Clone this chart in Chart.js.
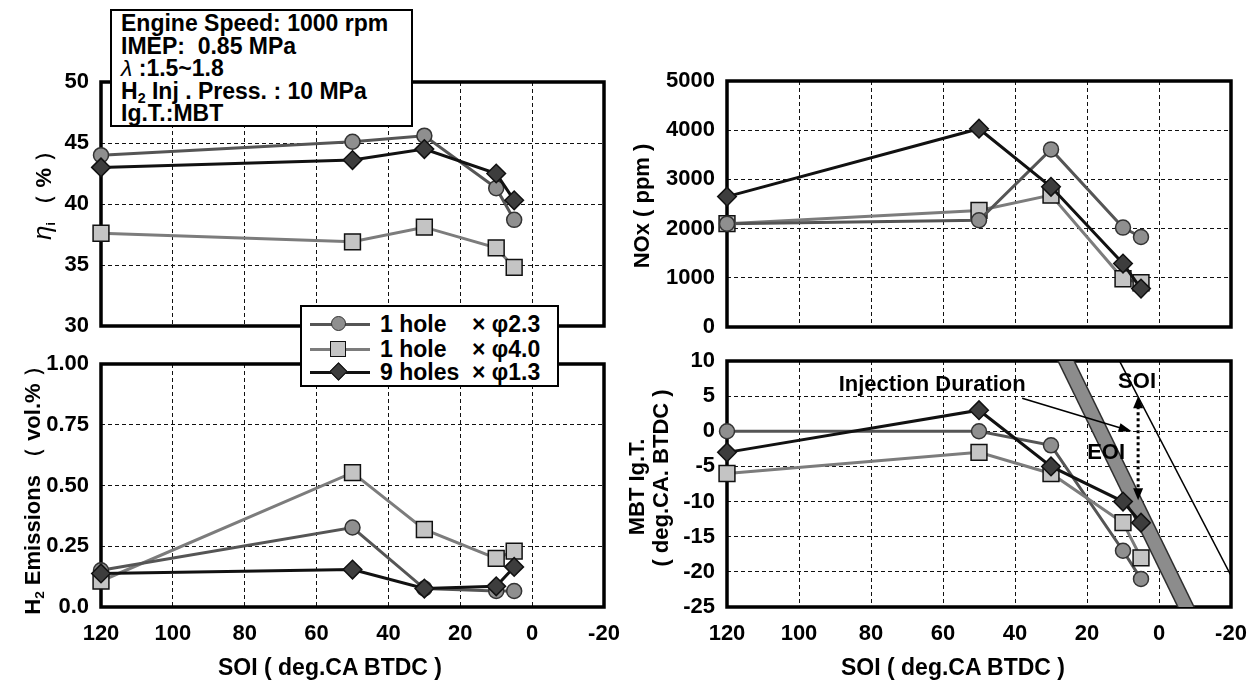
<!DOCTYPE html>
<html>
<head>
<meta charset="utf-8">
<script src="https://cdn.jsdelivr.net/npm/chart.js@4.4.1/dist/chart.umd.min.js"></script>
<style>
  html, body { margin: 0; padding: 0; background: #fff; }
  #page { position: relative; width: 1250px; height: 681px; overflow: hidden;
          font-family: 'Liberation Sans', Arial, sans-serif; font-weight: bold; color: #000; }
  canvas.panel { position: absolute; }
  .lbl { position: absolute; white-space: nowrap; font-size: 22px; line-height: 24px; z-index: 3; }
  .big { font-size: 23px; }
  .rot { transform: translate(-50%, -50%) rotate(-90deg); }
  .mid { transform: translate(-50%, -50%); }
  sub { font-size: 0.62em; vertical-align: -0.3em; line-height: 0; }
  #info { position: absolute; left: 110px; top: 9px; width: 303px; height: 118px; box-sizing: border-box;
          border: 2px solid #000; background: #fff; padding: 1px 0 0 9px; font-size: 23px;
          line-height: 22.6px; white-space: pre; z-index: 5; }
  #legend { position: absolute; left: 300px; top: 305px; width: 259px; height: 82px; box-sizing: border-box;
            border: 2px solid #000; background: #fff; z-index: 5; }
  .row { position: absolute; left: 0; width: 100%; height: 24px; }
  .row .ln { position: absolute; left: 8px; width: 60px; height: 3px; top: 11px; }
  .row .mk { position: absolute; box-sizing: border-box; }
  .row .tx { position: absolute; top: 0; font-size: 23px; line-height: 24px; white-space: nowrap; }
</style>
</head>
<body>
<div id="page">
  <canvas id="eta" class="panel" width="620" height="340" style="left:0;top:0"></canvas>
  <canvas id="h2" class="panel" width="620" height="341" style="left:0;top:340px"></canvas>
  <canvas id="nox" class="panel" width="630" height="340" style="left:620px;top:0"></canvas>
  <canvas id="mbt" class="panel" width="630" height="341" style="left:620px;top:340px"></canvas>

  <div id="info">Engine Speed: 1000 rpm
IMEP:  0.85 MPa
<span style="font-weight:normal;font-style:italic">λ</span> :1.5~1.8
H<sub>2</sub> Inj . Press. : 10 MPa
Ig.T.:MBT</div>

  <div id="legend"></div>

  <!-- axis titles -->
  <div class="lbl rot" style="left:43px;top:190px"><span style="font-size:26px;font-style:italic;font-weight:normal">η</span><sub>i</sub> （ % ）</div>
  <div class="lbl rot" style="left:33px;top:485px">H<sub>2</sub> Emissions （ vol.% ）</div>
  <div class="lbl rot" style="left:642px;top:206px">NOx ( ppm )</div>
  <div class="lbl rot" style="left:637px;top:487px">MBT Ig.T.</div>
  <div class="lbl rot" style="left:661px;top:478px">( deg.CA. BTDC )</div>
  <div class="lbl mid big" style="left:330px;top:667px">SOI ( deg.CA BTDC )</div>
  <div class="lbl mid big" style="left:953px;top:667px">SOI ( deg.CA BTDC )</div>
</div>

<script>
// =====================================================
// DATA
// =====================================================

// start of injection, deg.CA BTDC
const soi = [120, 50, 30, 10, 5];

// series names
const seriesNames = ['1 hole', '1 hole', '9 holes'];
const seriesSizes = ['× φ2.3', '× φ4.0', '× φ1.3'];

// indicated thermal efficiency (%)
const etaHole23 = [44.0, 45.1, 45.6, 41.3, 38.7];
const etaHole40 = [37.6, 36.9, 38.1, 36.4, 34.8];
const etaHoles9 = [43.0, 43.6, 44.5, 42.5, 40.3];

// NOx (ppm)
const noxHole23 = [2100, 2170, 3610, 2020, 1830];
const noxHole40 = [2100, 2370, 2680, 980, 900];
const noxHoles9 = [2650, 4030, 2850, 1290, 780];

// H2 emissions (vol.%)
const h2Hole23 = [0.151, 0.327, 0.076, 0.066, 0.066];
const h2Hole40 = [0.107, 0.553, 0.319, 0.200, 0.230];
const h2Holes9 = [0.138, 0.154, 0.076, 0.085, 0.165];

// MBT ignition timing (deg.CA BTDC)
const mbtHole23 = [0, 0, -2, -17, -21];
const mbtHole40 = [-6, -3, -6, -13, -18];
const mbtHoles9 = [-3, 3, -5, -10, -13];

// guide lines in the MBT panel (data coords)
const eoiBandX = [29.6, -11.3];
const eoiBandY = [14, -29];
const soiLineX = [13.0, -22];
const soiLineY = [12, -22.5];

// arrows in the MBT panel: [x0, x1], [y0, y1]
const durArrowX = [38, 7.6];
const durArrowY = [4.7, 0];
const gapArrowX = [5.8, 5.8];
const gapArrowY = [5.0, -9.8];

// notes in the MBT panel
const noteText = ['Injection Duration', 'SOI', 'EOI'];
const noteX = [63, 6.1, 14.7];
const noteY = [6.6, 7.0, -3.1];

// tick labels
const xTicks = ['-20', '0', '20', '40', '60', '80', '100', '120'];
const etaTicks = ['30', '35', '40', '45', '50'];
const h2Ticks = ['0.0', '0.25', '0.50', '0.75', '1.00'];
const noxTicks = ['0', '1000', '2000', '3000', '4000', '5000'];
const mbtTicks = ['-25', '-20', '-15', '-10', '-5', '0', '5', '10'];


// =====================================================
// STYLES
// =====================================================

const styles = [
  { line: '#555555', fill: '#8f8f8f', edge: '#333333', shape: 'circle',  r: 7.5 },
  { line: '#7c7c7c', fill: '#c4c4c4', edge: '#111111', shape: 'rect',    r: 11.2 },
  { line: '#111111', fill: '#3d3d3d', edge: '#111111', shape: 'rectRot', r: 9.3 }
];

const tickFont = { family: "'Liberation Sans', Arial, sans-serif", size: 22, weight: 'bold' };

// one line series
function series(i, ys, order) {
  const s = styles[i];
  return {
    label: seriesNames[i] + ' ' + seriesSizes[i],
    data: soi.map((x, k) => ({ x: x, y: ys[k] })),
    borderColor: s.line,
    borderWidth: 3,
    pointStyle: s.shape,
    pointRadius: s.r,
    pointBackgroundColor: s.fill,
    pointBorderColor: s.edge,
    pointBorderWidth: 1.5,
    tension: 0,
    clip: false,
    order: order
  };
}

// plain guide line (no points)
function guide(xs, ys, color, width, order) {
  return {
    data: xs.map((x, k) => ({ x: x, y: ys[k] })),
    borderColor: color,
    borderWidth: width,
    pointRadius: 0,
    clip: 0,
    order: order
  };
}

// heavy frame round the plot area
const frame = {
  id: 'frame',
  beforeDatasetsDraw(chart) {
    const { ctx, chartArea: a } = chart;
    ctx.save();
    ctx.lineWidth = 3.5;
    ctx.strokeStyle = '#000';
    ctx.strokeRect(a.left, a.top, a.right - a.left, a.bottom - a.top);
    ctx.restore();
  }
};

function arrowHead(ctx, x0, y0, x1, y1, len, half) {
  const ang = Math.atan2(y1 - y0, x1 - x0);
  ctx.beginPath();
  ctx.moveTo(x1, y1);
  ctx.lineTo(x1 - len * Math.cos(ang) + half * Math.sin(ang), y1 - len * Math.sin(ang) - half * Math.cos(ang));
  ctx.lineTo(x1 - len * Math.cos(ang) - half * Math.sin(ang), y1 - len * Math.sin(ang) + half * Math.cos(ang));
  ctx.closePath();
  ctx.fill();
}

// arrows and notes in the MBT panel
const notes = {
  id: 'notes',
  afterDatasetsDraw(chart) {
    const { ctx, scales: { x, y } } = chart;
    const px = v => x.getPixelForValue(v);
    const py = v => y.getPixelForValue(v);
    ctx.save();
    ctx.strokeStyle = '#000';
    ctx.fillStyle = '#000';

    // injection duration arrow
    const ax0 = px(durArrowX[0]), ay0 = py(durArrowY[0]);
    const ax1 = px(durArrowX[1]), ay1 = py(durArrowY[1]);
    const ang = Math.atan2(ay1 - ay0, ax1 - ax0);
    ctx.lineWidth = 1.6;
    ctx.beginPath();
    ctx.moveTo(ax0, ay0);
    ctx.lineTo(ax1 - 8 * Math.cos(ang), ay1 - 8 * Math.sin(ang));
    ctx.stroke();
    arrowHead(ctx, ax0, ay0, ax1, ay1, 13, 4.5);

    // dotted double arrow between SOI and EOI
    const gx = px(gapArrowX[0]), gy0 = py(gapArrowY[0]), gy1 = py(gapArrowY[1]);
    ctx.lineWidth = 3;
    ctx.setLineDash([3, 3]);
    ctx.beginPath();
    ctx.moveTo(gx, gy0 + 10);
    ctx.lineTo(gx, gy1 - 10);
    ctx.stroke();
    ctx.setLineDash([]);
    arrowHead(ctx, gx, gy1, gx, gy0, 12, 5);
    arrowHead(ctx, gx, gy0, gx, gy1, 12, 5);

    // notes
    ctx.font = "bold 22px 'Liberation Sans', Arial, sans-serif";
    ctx.textAlign = 'center';
    ctx.textBaseline = 'middle';
    noteText.forEach((t, k) => ctx.fillText(t, px(noteX[k]), py(noteY[k])));
    ctx.restore();
  }
};

// build one panel; p holds its layout box and y range
function makePanel(id, datasets, p, extra) {
  return new Chart(document.getElementById(id), {
    type: 'line',
    data: { datasets: datasets },
    options: {
      responsive: false,
      animation: false,
      events: [],
      layout: { padding: { top: p.top, right: p.right, left: 0, bottom: 0 } },
      plugins: { legend: { display: false }, tooltip: { enabled: false } },
      scales: {
        x: {
          type: 'linear', reverse: true, min: -20, max: 120,
          ticks: {
            stepSize: 20, display: p.showX, autoSkip: false, maxRotation: 0,
            font: tickFont, color: '#000', padding: 14,
            callback: v => xTicks[Math.round((v + 20) / 20)]
          },
          grid: { color: '#111', lineWidth: 1, drawTicks: false },
          border: { display: false, dash: [4, 3] },
          afterFit: s => { s.height = p.xh; s.paddingLeft = 0; s.paddingRight = 0; }
        },
        y: {
          type: 'linear', min: p.min, max: p.max,
          ticks: {
            stepSize: p.step, autoSkip: false, font: tickFont, color: '#000', padding: 12,
            callback: v => p.labels[Math.round((v - p.min) / p.step)]
          },
          grid: { color: '#111', lineWidth: 1, drawTicks: false },
          border: { display: false, dash: [4, 3] },
          afterFit: s => { s.width = p.yw; s.paddingTop = 0; s.paddingBottom = 0; }
        }
      }
    },
    plugins: [frame].concat(extra || [])
  });
}


// =====================================================
// PANELS
// =====================================================

makePanel('eta',
  [series(0, etaHole23, 3), series(1, etaHole40, 2), series(2, etaHoles9, 1)],
  { top: 82, right: 16, xh: 14, yw: 101, showX: false, min: 30, max: 50, step: 5, labels: etaTicks });

makePanel('h2',
  [series(0, h2Hole23, 2), series(1, h2Hole40, 3), series(2, h2Holes9, 1)],
  { top: 24, right: 16, xh: 74, yw: 101, showX: true, min: 0, max: 1, step: 0.25, labels: h2Ticks });

makePanel('nox',
  [series(0, noxHole23, 2), series(1, noxHole40, 3), series(2, noxHoles9, 1)],
  { top: 81, right: 19, xh: 13, yw: 107, showX: false, min: 0, max: 5000, step: 1000, labels: noxTicks });

makePanel('mbt',
  [series(0, mbtHole23, 3), series(1, mbtHole40, 2), series(2, mbtHoles9, 1),
   guide(eoiBandX, eoiBandY, '#2e2e2e', 16, 12),
   guide(eoiBandX, eoiBandY, '#8c8c8c', 13, 11),
   guide(soiLineX, soiLineY, '#000', 1.5, 10)],
  { top: 21, right: 19, xh: 74, yw: 107, showX: true, min: -25, max: 10, step: 5, labels: mbtTicks },
  [notes]);


// =====================================================
// LEGEND (shared box)
// =====================================================

const legendRows = [5, 30, 53];  // row tops inside the box
const legend = document.getElementById('legend');
styles.forEach((s, i) => {
  const row = document.createElement('div');
  row.className = 'row';
  row.style.top = legendRows[i] + 'px';

  const ln = document.createElement('div');
  ln.className = 'ln';
  ln.style.background = s.line;
  row.appendChild(ln);

  const mk = document.createElement('div');
  mk.className = 'mk';
  mk.style.background = s.fill;
  mk.style.border = '1.5px solid ' + s.edge;
  if (s.shape === 'circle') {
    mk.style.cssText += 'width:15px;height:15px;left:29px;top:4px;border-radius:50%';
  } else if (s.shape === 'rect') {
    mk.style.cssText += 'width:16px;height:16px;left:28px;top:4px';
  } else {
    mk.style.cssText += 'width:13px;height:13px;left:30px;top:5px;transform:rotate(45deg)';
  }
  row.appendChild(mk);

  const name = document.createElement('div');
  name.className = 'tx';
  name.style.left = '78px';
  name.textContent = seriesNames[i];
  row.appendChild(name);

  const size = document.createElement('div');
  size.className = 'tx';
  size.style.left = '170px';
  size.textContent = seriesSizes[i];
  row.appendChild(size);

  legend.appendChild(row);
});
</script>
</body>
</html>
